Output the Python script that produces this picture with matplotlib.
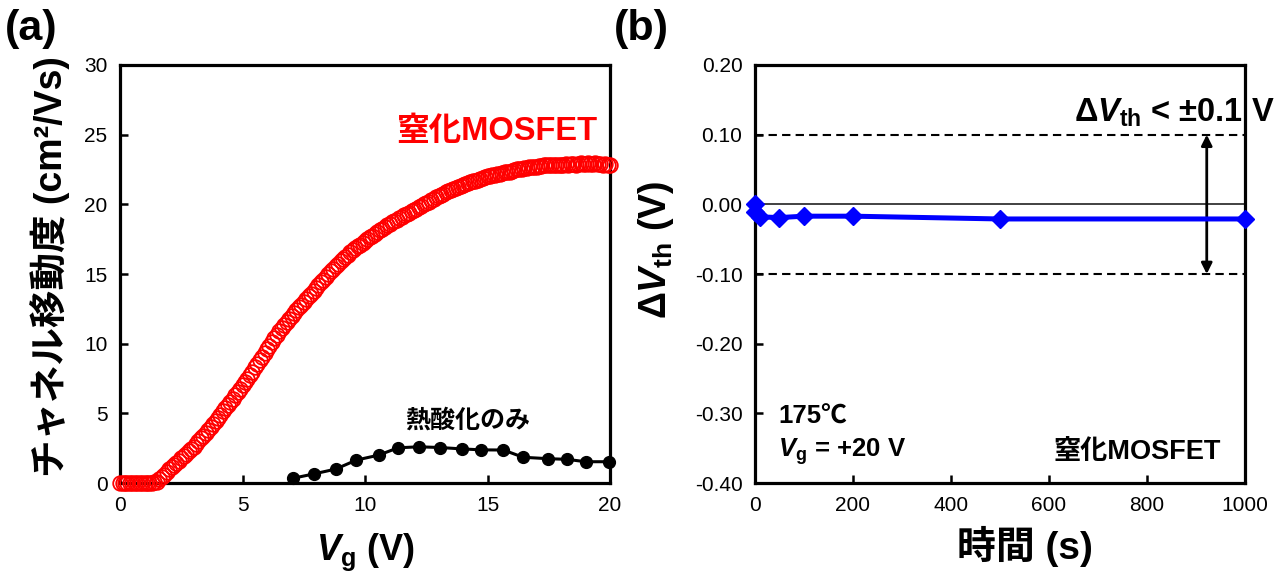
import numpy as np
import matplotlib
matplotlib.use('Agg')
import matplotlib.pyplot as plt

plt.rcParams['font.family'] = ['Liberation Sans', 'Noto Sans CJK JP']
plt.rcParams['mathtext.fontset'] = 'custom'
plt.rcParams['mathtext.rm'] = 'Liberation Sans:bold'
plt.rcParams['mathtext.it'] = 'Liberation Sans:italic:bold'
plt.rcParams['mathtext.bf'] = 'Liberation Sans:bold'
plt.rcParams['axes.unicode_minus'] = False

# (a) 移動度 - ゲート電圧 (0.1 V step sweep)
vg_sweep = np.linspace(0, 20, 201)
mu_nitrided = [
    0, 0, 0, 0, 0, 0, 0, 0, 0, 0,
    0, 0, 0, 0, 0.05, 0.1, 0.3, 0.45, 0.6, 0.8,
    1.0, 1.15, 1.3, 1.45, 1.6, 1.8, 1.95, 2.1, 2.3, 2.45,
    2.6, 2.8, 3.0, 3.2, 3.4, 3.6, 3.8, 4.0, 4.25, 4.45,
    4.7, 4.9, 5.15, 5.35, 5.6, 5.8, 6.05, 6.3, 6.5, 6.75,
    7.0, 7.25, 7.5, 7.75, 8.0, 8.3, 8.55, 8.8, 9.05, 9.35,
    9.6, 9.85, 10.1, 10.4, 10.65, 10.9, 11.1, 11.35, 11.55, 11.8,
    12.0, 12.2, 12.4, 12.6, 12.8, 13.0, 13.2, 13.4, 13.6, 13.8,
    14.0, 14.2, 14.4, 14.6, 14.8, 15.0, 15.2, 15.35, 15.55, 15.75,
    15.9, 16.05, 16.2, 16.35, 16.55, 16.7, 16.85, 17.0, 17.1, 17.25,
    17.4, 17.5, 17.65, 17.75, 17.9, 18.0, 18.15, 18.25, 18.35, 18.5,
    18.6, 18.7, 18.8, 18.9, 19.0, 19.1, 19.2, 19.3, 19.4, 19.5,
    19.6, 19.7, 19.8, 19.9, 20.0, 20.1, 20.2, 20.3, 20.4, 20.5,
    20.6, 20.65, 20.75, 20.85, 20.95, 21.0, 21.1, 21.15, 21.25, 21.3,
    21.4, 21.45, 21.5, 21.6, 21.65, 21.7, 21.75, 21.8, 21.9, 21.95,
    22.0, 22.05, 22.1, 22.1, 22.15, 22.2, 22.25, 22.3, 22.3, 22.35,
    22.4, 22.45, 22.5, 22.5, 22.55, 22.6, 22.6, 22.65, 22.65, 22.7,
    22.7, 22.75, 22.75, 22.8, 22.8, 22.8, 22.85, 22.8, 22.85, 22.85,
    22.8, 22.85, 22.9, 22.85, 22.9, 22.9, 22.85, 22.9, 22.95, 22.9,
    22.9, 22.95, 22.9, 22.9, 22.95, 22.9, 22.9, 22.85, 22.9, 22.85,
    22.8,
]
vg_oxide = [7.05, 7.9, 8.8, 9.65, 10.55, 11.35, 12.2, 13.05,
            13.95, 14.75, 15.65, 16.45, 17.45, 18.25, 19.0, 19.95]
mu_oxide = [0.34, 0.65, 1.0, 1.65, 2.0, 2.53, 2.6, 2.55,
            2.45, 2.38, 2.37, 1.85, 1.75, 1.7, 1.53, 1.53]

# (b) しきい値変動 - ストレス時間
t_stress = [0, 1, 10, 50, 100, 200, 500, 1000]
dvth = [0.0, -0.011, -0.018, -0.019, -0.017, -0.017, -0.021, -0.021]

fig = plt.figure(figsize=(12.84, 5.73), dpi=100)
ax1 = fig.add_axes([0.0935, 0.157, 0.3816, 0.7296])
ax2 = fig.add_axes([0.588, 0.157, 0.3816, 0.7296])

for ax in (ax1, ax2):
    for s in ax.spines.values():
        s.set_linewidth(2.3)
    ax.tick_params(direction='in', length=6, width=1.8, labelsize=15,
                   pad=9, top=False, right=False)

# ---- (a) ----
ax1.plot(vg_sweep, mu_nitrided, 'o', mfc='none', mec='red', ms=10.5,
         mew=1.3, clip_on=False, zorder=5)
ax1.plot(vg_oxide, mu_oxide, '-o', color='black', ms=8.5, lw=2.2,
         clip_on=False, zorder=5)
ax1.set_xlim(0, 20)
ax1.set_ylim(0, 30)
ax1.set_xticks([0, 5, 10, 15, 20])
ax1.set_yticks([0, 5, 10, 15, 20, 25, 30])
ax1.set_xlabel('$V_\\mathrm{g}$ (V)', fontsize=26, fontweight='bold')
ax1.xaxis.set_label_coords(0.5, -0.115)
ax1.set_ylabel('チャネル移動度 (cm²/Vs)', fontsize=27, fontweight='bold')
ax1.yaxis.set_label_coords(-0.103, 0.517)
ax1.text(19.5, 25.2, '窒化MOSFET', color='red', fontsize=23.5,
         fontweight='bold', ha='right', va='center')
ax1.text(14.2, 4.5, '熱酸化のみ', color='black', fontsize=18,
         fontweight='bold', ha='center', va='center')

# ---- (b) ----
ax2.axhline(0, color='#333333', lw=1.3, zorder=2)
ax2.axhline(0.1, color='black', lw=1.5, ls=(0, (4, 2.5)), zorder=2)
ax2.axhline(-0.1, color='black', lw=1.5, ls=(0, (4, 2.5)), zorder=2)
ax2.plot(t_stress, dvth, '-D', color='blue', lw=3.6, ms=9.5,
         clip_on=False, zorder=5)
ax2.annotate('', xy=(922, -0.1), xytext=(922, 0.1),
             arrowprops=dict(arrowstyle='<|-|>', color='black', lw=2,
                             mutation_scale=16, shrinkA=0, shrinkB=0))
ax2.set_xlim(0, 1000)
ax2.set_ylim(-0.4, 0.2)
ax2.set_xticks([0, 200, 400, 600, 800, 1000])
ax2.set_yticks([-0.4, -0.3, -0.2, -0.1, 0.0, 0.1, 0.2])
ax2.yaxis.set_major_formatter(plt.FormatStrFormatter('%.2f'))
ax2.set_xlabel('時間 (s)', fontsize=28, fontweight='bold')
ax2.xaxis.set_label_coords(0.551, -0.103)
ax2.set_ylabel('Δ$V_\\mathrm{th}$ (V)', fontsize=27, fontweight='bold')
ax2.yaxis.set_label_coords(-0.161, 0.557)
ax2.text(1060, 0.108, 'Δ$V_\\mathrm{th}$ < ±0.1 V', fontsize=23.5,
         fontweight='bold', ha='right', va='bottom')
ax2.text(0.047, -0.305, '175℃', fontsize=18.5, fontweight='bold',
         transform=ax2.get_yaxis_transform(), va='center')
ax2.text(0.047, -0.355, '$V_\\mathrm{g}$ = +20 V', fontsize=18.5,
         fontweight='bold', transform=ax2.get_yaxis_transform(), va='center')
ax2.text(0.95, -0.355, '窒化MOSFET', fontsize=19.5, fontweight='bold',
         transform=ax2.get_yaxis_transform(), ha='right', va='center')

fig.text(0.004, 0.985, '(a)', fontsize=31, fontweight='bold', va='top')
fig.text(0.478, 0.985, '(b)', fontsize=31, fontweight='bold', va='top')

fig.savefig('out.png', dpi=100)
